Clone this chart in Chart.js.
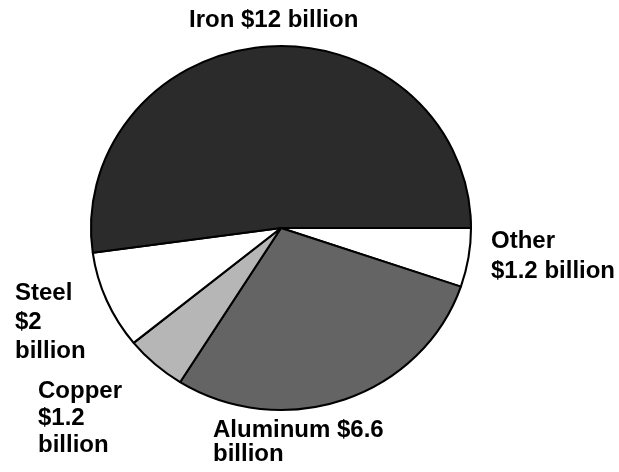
<!DOCTYPE html>
<html>
<head>
<meta charset="utf-8">
<script src="https://cdn.jsdelivr.net/npm/chart.js@4.4.1/dist/chart.umd.min.js"></script>
<style>
  html, body { margin: 0; padding: 0; background: #ffffff; }
  #wrap { width: 619px; height: 472px; position: relative; }
</style>
</head>
<body>
<div id="wrap"><canvas id="c" width="619" height="472"></canvas></div>
<script>
// Data (clockwise from 3 o'clock)
const categories = ['Other', 'Aluminum', 'Copper', 'Steel', 'Iron'];
const values = [1.2, 6.6, 1.2, 2, 12];
const labelLines = [
  ['Other', '$1.2 billion'],
  ['Aluminum $6.6', 'billion'],
  ['Copper', '$1.2', 'billion'],
  ['Steel', '$2', 'billion'],
  ['Iron $12 billion']
];
const sliceColors = ['#ffffff', '#646464', '#b6b6b6', '#ffffff', '#2b2b2b'];

// Layout of the labels (baseline of first line, line gap)
const labelLayout = [
  { x: 491, y: 248, gap: 30 },
  { x: 213, y: 437, gap: 24 },
  { x: 38,  y: 398, gap: 27 },
  { x: 15,  y: 300, gap: 29 },
  { x: 189, y: 27,  gap: 28 }
];

const stretchX = 190 / 182;

const ellipsePlugin = {
  id: 'ellipse',
  beforeDatasetsDraw(chart) {
    const ctx = chart.ctx;
    const meta = chart.getDatasetMeta(0);
    const arc = meta.data[0];
    ctx.save();
    ctx.translate(arc.x, arc.y);
    ctx.scale(stretchX, 1);
    ctx.translate(-arc.x, -arc.y);
  },
  afterDatasetsDraw(chart) {
    chart.ctx.restore();
  }
};

const labelPlugin = {
  id: 'sliceLabels',
  afterDraw(chart) {
    const ctx = chart.ctx;
    ctx.save();
    ctx.fillStyle = '#000000';
    ctx.font = 'bold 24px "Liberation Sans", Arial, sans-serif';
    ctx.textAlign = 'left';
    ctx.textBaseline = 'alphabetic';
    labelLines.forEach((lines, i) => {
      const p = labelLayout[i];
      lines.forEach((t, j) => ctx.fillText(t, p.x, p.y + j * p.gap));
    });
    ctx.restore();
  }
};

new Chart(document.getElementById('c'), {
  type: 'pie',
  data: {
    labels: categories,
    datasets: [{
      data: values,
      backgroundColor: sliceColors,
      borderColor: '#000000',
      borderWidth: 2,
      clip: false
    }]
  },
  options: {
    responsive: false,
    animation: false,
    rotation: 90,
    radius: 182,
    layout: { padding: { left: 0, right: 57, top: 0, bottom: 16 } },
    plugins: {
      legend: { display: false },
      tooltip: { enabled: false }
    }
  },
  plugins: [ellipsePlugin, labelPlugin]
});
</script>
</body>
</html>
